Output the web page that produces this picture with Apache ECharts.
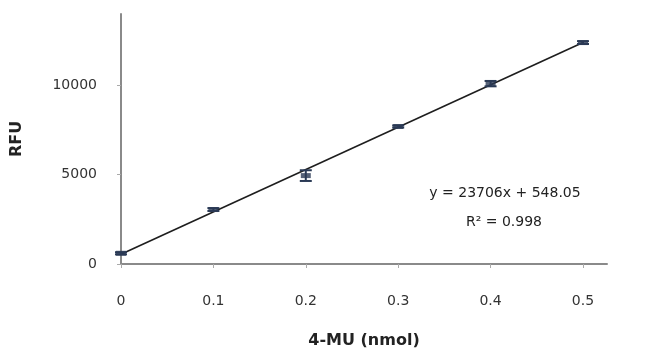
<!DOCTYPE html>
<html>
<head>
<meta charset="utf-8">
<script src="https://cdn.jsdelivr.net/npm/echarts@6/dist/echarts.min.js"></script>
<style>html,body{margin:0;padding:0;background:#fff}#c{width:650px;height:361px}</style>
</head>
<body>
<div id="c"></div>
<script>
const xValues = [0, 0.1, 0.2, 0.3, 0.4, 0.5];
const rfuValues = [600, 3050, 4950, 7700, 10100, 12400];
const rfuErrors = [60, 80, 300, 60, 150, 80];
const trendSlope = 23706;
const trendIntercept = 548.05;
const equationText = 'y = 23706x + 548.05';
const r2Text = 'R² = 0.998';

const chart = echarts.init(document.getElementById('c'));
const pts = xValues.map((x, i) => [x, rfuValues[i]]);
const errData = xValues.map((x, i) => [x, rfuValues[i] - rfuErrors[i], rfuValues[i] + rfuErrors[i]]);
const trend = [xValues[0], xValues[xValues.length - 1]].map(x => [x, trendSlope * x + trendIntercept]);

chart.setOption({
  animation: false,
  grid: { left: 121, right: 43, top: 14, bottom: 97 },
  xAxis: {
    type: 'value', min: 0, max: 0.526, interval: 0.1,
    name: '4-MU (nmol)', nameLocation: 'middle', nameGap: 69,
    nameTextStyle: { fontFamily: 'DejaVu Sans', fontWeight: 'bold', fontSize: 16, color: '#222' },
    axisLine: { show: true, lineStyle: { color: '#8a8a8a', width: 2 } },
    axisTick: { show: true, length: 4, lineStyle: { color: '#aaa' } },
    axisLabel: { showMaxLabel: false, margin: 30, fontFamily: 'DejaVu Sans', fontSize: 14, color: '#333' },
    splitLine: { show: false }
  },
  yAxis: {
    type: 'value', min: 0, max: 14000, interval: 5000,
    name: 'RFU', nameLocation: 'middle', nameGap: 96,
    nameTextStyle: { fontFamily: 'DejaVu Sans', fontWeight: 'bold', fontSize: 16, color: '#222' },
    axisLine: { show: true, lineStyle: { color: '#8a8a8a', width: 2 } },
    axisTick: { show: true, length: 4, lineStyle: { color: '#aaa' } },
    axisLabel: { showMaxLabel: false, margin: 24, fontFamily: 'DejaVu Sans', fontSize: 14, color: '#333',
      formatter: v => String(v) },
    splitLine: { show: false }
  },
  series: [
    {
      type: 'line', data: trend, symbol: 'none', z: 3,
      lineStyle: { color: '#1e1e1e', width: 1.6 }
    },
    {
      type: 'custom', z: 4,
      renderItem: function (params, api) {
        const x = api.value(0);
        const lo = api.coord([x, api.value(1)]);
        const hi = api.coord([x, api.value(2)]);
        const w = 6;
        const st = { stroke: '#2a3a55', lineWidth: 2 };
        return { type: 'group', children: [
          { type: 'line', shape: { x1: lo[0], y1: lo[1], x2: hi[0], y2: hi[1] }, style: st },
          { type: 'line', shape: { x1: lo[0] - w, y1: lo[1], x2: lo[0] + w, y2: lo[1] }, style: st },
          { type: 'line', shape: { x1: hi[0] - w, y1: hi[1], x2: hi[0] + w, y2: hi[1] }, style: st }
        ]};
      },
      data: errData
    },
    {
      type: 'scatter', data: pts, symbol: 'rect', symbolSize: [10, 5], z: 5,
      itemStyle: { color: '#2a3a55' }
    }
  ],
  graphic: [
    { type: 'text', x: 505, y: 193, style: { text: equationText, font: '14px "DejaVu Sans"', fill: '#222', align: 'center', verticalAlign: 'middle' } },
    { type: 'text', x: 504, y: 222, style: { text: r2Text, font: '14px "DejaVu Sans"', fill: '#222', align: 'center', verticalAlign: 'middle' } }
  ]
});
</script>
</body>
</html>
